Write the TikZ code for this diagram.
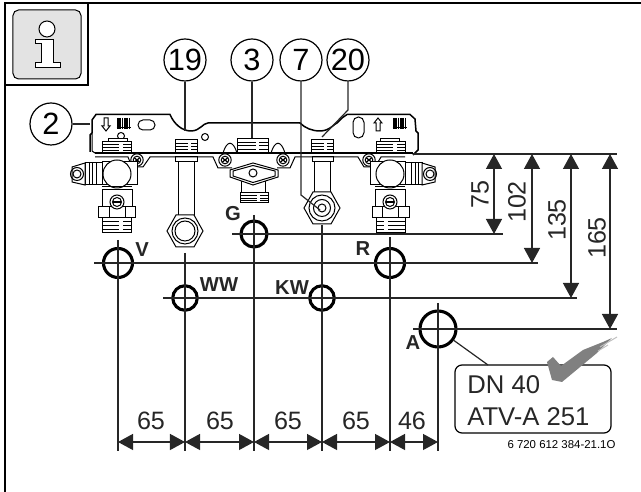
\documentclass[tikz,border=0pt]{standalone}
\usepackage{fontspec}
\setmainfont{Liberation Sans}
\usetikzlibrary{arrows.meta,calc}

\newcommand{\threads}[4]{
  \draw[part, fill=white] (#1,#2) rectangle (#3,#4);
  \foreach \f in {.25,.5,.75} {
    \draw[line width=.14mm] ($(#1,#2)!\f!(#1,#4)$) -- ($(#3,#2)!\f!(#3,#4)$);
  }
  \fill[white] ($(#1,#2)!.6!(#3,#2)+(0,1)$) rectangle ($(#1,#4)!.72!(#3,#4)+(0,-1)$);
}
\newcommand{\radiator}[2]{
  \foreach \d in {0,2.3,4.6,6.9,9.2,11.5} {
    \draw[line width=.34mm] (#1+\d,#2) -- (#1+\d,#2+11);
  }
  \draw[line width=.14mm] (#1-1.5,#2+9) -- (#1+13,#2+9);
}

\begin{document}
\begin{tikzpicture}[x=0.2mm, y=-0.2mm,
    part/.style={line width=.2mm},
    frameline/.style={line width=.45mm},
    thinline/.style={line width=.24mm, black!85},
    dimline/.style={line width=.26mm, black!85, {Triangle[length=3mm,width=3.2mm]}-{Triangle[length=3mm,width=3.2mm]}},
    callout/.style={circle, draw, line width=.24mm, minimum size=8.4mm, inner sep=0pt, font=\fontsize{17.5}{19}\selectfont},
    hole/.style={circle, draw, line width=.62mm, inner sep=0pt},
    holelabel/.style={inner sep=0pt, black!85, font=\fontsize{11.5}{13}\selectfont\bfseries},
    dimlabel/.style={inner sep=0pt, black!85, font=\fontsize{14.3}{16}\selectfont},
    notetext/.style={anchor=base west, inner sep=0pt, black!85, font=\fontsize{14.6}{17}\selectfont},
    pics/valve/.style={code={
      \draw[part, fill=white] (-21,-11) -- (-15,-11) -- (-15,11) -- (-21,11) -- cycle;
      \draw[part, fill=white] (-15,-12) rectangle (20,11);
      \draw[part, fill=white] (-32,-11) rectangle (-21,11);
      \foreach \d in {-28,-25} {\draw[part] (\d,-11) -- (\d,11);}
      \draw[part, fill=white] (-32,-11) -- (-45,-7) -- (-45,8) -- (-32,11) -- cycle;
      \draw[part] (-40,0) circle (6.5) (-40,0) circle (4);
      \draw[part, fill=white] (0,0) circle (14);
      \draw[part, fill=white] (-15,16) rectangle (15,34);
      \draw[part] (-15,13) -- (15,13);
      \draw[part, fill=white] (-19,33) rectangle (18,44);
      \draw[part] (-8,33) -- (-8,44) (8,33) -- (8,44);
      \draw[part, fill=white] (0,28) circle (7) (0,28) circle (4.5);
      \draw[line width=.3mm] (-4,28) -- (4,28);
      \threads{-15}{44}{14}{59}
    }},
    pics/nut/.style={code={
      \draw[part, fill=white] (-18,0) -- (-9,-16) -- (9,-16) -- (18,0) -- (9,16) -- (-9,16) -- cycle;
    }}]

  \useasboundingbox (0,0) rectangle (641,492);

  % page frame
  \coordinate (frametl) at (5,3);
  \draw[frameline] (5,492) -- (frametl) -- (641,3);
  \draw[frameline] (88,3) -- (88,85) -- (5,85);

  % info sign
  \draw[line width=.2mm, fill=black!11, rounded corners=1.1mm] (13,10) rectangle (81,79);
  \draw[part, fill=white] (47,29) circle (8);
  \draw[part, fill=white] (35,40) -- (53,40) -- (53,63) -- (60,63) -- (60,67.5) -- (35,67.5) -- (35,63) -- (41,63) -- (41,44) -- (35,44) -- cycle;

  % plate
  \draw[line width=.3mm] (90,152) -- (90,135) -- (92,133) -- (92,120) -- (96,114.5) -- (170,114.5)
    .. controls (174,124) and (182,131) .. (191,131) .. controls (200,131) and (203,123) .. (208,123) -- (300,123)
    .. controls (305,128) and (312,131) .. (320,131) .. controls (330,131) and (335,123) .. (337,123) -- (342,118) -- (347,114.5) -- (410,114.5) -- (415,119) -- (416,131) -- (418,133) -- (418,150) -- (413,155);
  \draw[part] (92,134) -- (92,151) -- (95,153);
  \draw[line width=.3mm] (95,153) -- (413,153);
  \draw[part] (95,157) -- (128,157) -- (132,167) -- (143,167) -- (150,157) -- (213,157) -- (218,168) -- (232,168);
  \draw[part] (277,168) -- (290,168) -- (295,157) -- (358,157) -- (364,167) -- (375,167) -- (381,157) -- (405,157);

  % marks on the plate
  \draw[part] (104,118) -- (108,118) -- (108,126) -- (110,126) -- (106,131) -- (102,126) -- (104,126) -- cycle;
  \radiator{118}{118}
  \draw[part, rounded corners=2.8pt] (138,120) rectangle (155,130);
  \draw[part] (121,136) circle (3.5) (205,137) circle (3.5);
  \draw[part, rounded corners=3.1pt] (353,117) rectangle (364,138);
  \draw[part] (376,131) -- (380,131) -- (380,123) -- (382,123) -- (378,118) -- (374,123) -- (376,123) -- cycle;
  \radiator{394}{118}

  % screws
  \foreach \sx in {137,225,283,369} {
    \draw[part, fill=white] (\sx,160) circle (6.2) (\sx,160) circle (3.8);
    \draw[line width=.24mm] (\sx-2.5,158) -- (\sx+2.5,162) (\sx-2.5,162) -- (\sx+2.5,158);
  }

  % valves
  \pic at (117,174) {valve};
  \pic[xscale=-1] at (390,174) {valve};
  \draw[part, fill=white] (108,142) rectangle (127,139);
  \draw[part, fill=white] (380,142) rectangle (399,139);
  \threads{102}{142}{131}{152.5}
  \threads{376}{142}{405}{152.5}

  % fitting 19
  \draw[part] (178,162) -- (178,216) (194,162) -- (194,216);
  \threads{175}{140}{197}{152.5}
  \draw[part] (175,157) rectangle (197,162);
  \pic at (185,231) {nut};
  \draw[part] (185,231) circle (13) (185,231) circle (10);

  % fitting 3
  \draw[part] (223,153) .. controls (227,140) and (233,140) .. (237,153);
  \draw[part] (271,153) .. controls (275,140) and (281,140) .. (285,153);
  \threads{237}{139}{268}{152.5}
  \draw[part] (241,180) -- (241,193) (265,180) -- (265,193);
  \threads{240}{193}{268}{203}
  \draw[part, fill=white] (230,170) -- (253,163) -- (278,170) -- (278,177) -- (253,185) -- (230,177) -- cycle;
  \draw[part] (233,171) -- (253,165.5) -- (275,171) -- (275,176) -- (253,182.5) -- (233,176) -- cycle;
  \draw[part] (253,173) circle (4);

  % fitting 20
  \draw[part] (314,162) -- (314,193) (330,162) -- (330,193);
  \threads{311}{140}{333}{152.5}
  \draw[part] (312,157) rectangle (333,162);
  \pic at (322,208) {nut};
  \foreach \r in {13,8.5,4} {\draw[part] (322,208) circle (\r);}

  % callouts
  \node[callout] (partplate) at (51,124) {2};
  \node[callout] (partww) at (185,60) {19};
  \node[callout] (partvalve) at (252,60) {3};
  \node[callout] (partkw) at (301,60) {7};
  \node[callout] (partcold) at (348,60) {20};
  \coordinate (plateedge) at (90,124);
  \coordinate (wwend) at (185,131);
  \coordinate (valveend) at (252,138);
  \coordinate (kwbend) at (301,195);
  \coordinate (kwend) at (320,210);
  \coordinate (coldbend) at (348,110);
  \coordinate (coldend) at (322,137);
  \draw[thinline] (partplate) -- (plateedge);
  \draw[thinline] (partww) -- (wwend);
  \draw[thinline] (partvalve) -- (valveend);
  \draw[thinline] (partkw) -- (kwbend) -- (kwend);
  \draw[thinline] (partcold) -- (coldbend) -- (coldend);

  % connection holes
  \node[hole, minimum size=5.8mm] (holeV) at (118,263) {};
  \node[hole, minimum size=5.2mm] (holeG) at (254,234) {};
  \node[hole, minimum size=5.8mm] (holeR) at (390,263) {};
  \node[hole, minimum size=4.9mm] (holeWW) at (185,298) {};
  \node[hole, minimum size=4.9mm] (holeKW) at (322,298) {};
  \node[hole, minimum size=7.2mm] (holeA) at (438,329) {};
  \node[holelabel] (labelV) at (142,250) {V};
  \node[holelabel] (labelG) at (233,214) {G};
  \node[holelabel] (labelR) at (363,249) {R};
  \node[holelabel] (labelWW) at (219,285) {WW};
  \node[holelabel] (labelKW) at (292,288) {KW};
  \node[holelabel] (labelA) at (413,343) {A};

  % reference lines
  \coordinate (datum) at (617,154);
  \coordinate (datumstart) at (413,154);
  \draw[thinline] (datumstart) -- (datum);
  \coordinate (lineGl) at (232,234);
  \coordinate (lineGr) at (503,234);
  \coordinate (lineVl) at (94,263);
  \coordinate (lineVr) at (538,263);
  \coordinate (lineWl) at (163,298);
  \coordinate (lineWr) at (577,298);
  \coordinate (lineAl) at (413,329);
  \coordinate (lineAr) at (617,329);
  \draw[thinline] (lineGl) -- (lineGr);
  \draw[thinline] (lineVl) -- (lineVr);
  \draw[thinline] (lineWl) -- (lineWr);
  \draw[thinline] (lineAl) -- (lineAr);

  % bottom dimensions
  \coordinate (dimV) at (118,442);
  \coordinate (dimW) at (185,442);
  \coordinate (dimG) at (254,442);
  \coordinate (dimK) at (322,442);
  \coordinate (dimR) at (390,442);
  \coordinate (dimA) at (438,442);
  \draw[thinline] (118,240) -- (118,451);
  \draw[thinline] (185,253) -- (185,451);
  \draw[thinline] (254,215) -- (254,451);
  \draw[thinline] (322,225) -- (322,451);
  \draw[thinline] (390,237) -- (390,451);
  \draw[thinline] (438,303) -- (438,451);
  \draw[dimline] (dimV) -- (dimW);
  \draw[dimline] (dimW) -- (dimG);
  \draw[dimline] (dimG) -- (dimK);
  \draw[dimline] (dimK) -- (dimR);
  \draw[dimline] (dimR) -- (dimA);
  \node[dimlabel] (sizeVW) at (151,421) {65};
  \node[dimlabel] (sizeWG) at (220,421) {65};
  \node[dimlabel] (sizeGK) at (288,421) {65};
  \node[dimlabel] (sizeKR) at (356,421) {65};
  \node[dimlabel] (sizeRA) at (412,421) {46};

  % side dimensions
  \coordinate (topG) at (494,154);
  \coordinate (botG) at (494,234);
  \coordinate (topV) at (532,154);
  \coordinate (botV) at (532,263);
  \coordinate (topW) at (571,154);
  \coordinate (botW) at (571,298);
  \coordinate (topA) at (610,154);
  \coordinate (botA) at (610,329);
  \draw[dimline] (topG) -- (botG);
  \draw[dimline] (topV) -- (botV);
  \draw[dimline] (topW) -- (botW);
  \draw[dimline] (topA) -- (botA);
  \node[dimlabel, rotate=90] (sizeG) at (480,195) {75};
  \node[dimlabel, rotate=90] (sizeV) at (517,202) {102};
  \node[dimlabel, rotate=90] (sizeW) at (557,220) {135};
  \node[dimlabel, rotate=90] (sizeA) at (597,238) {165};

  % drain note
  \node[draw, line width=.24mm, rounded corners=1.4mm, minimum width=31.2mm, minimum height=13.6mm, inner sep=0pt] (notebox) at (533,399) {};
  \node[notetext] (noteDN) at (467,394) {DN 40};
  \node[notetext] (noteATV) at (467,426) {ATV-A 251};
  \coordinate (noteleader) at (488,365);
  \draw[thinline] (holeA) -- (noteleader);
  \fill[black!50] (547,362) -- (553,357) -- (561,366) -- (583,350) -- (603,342) -- (612,338) -- (597,353) -- (562,382) -- (552,380) -- cycle;
  \draw[black!25, line width=.2mm] (600,347) -- (617,337) (598,351) -- (608,345);
  \node[inner sep=0pt, font=\fontsize{6.5}{8}\selectfont] (figcode) at (561.5,445) {6 720 612 384-21.1O};
\end{tikzpicture}
\end{document}
